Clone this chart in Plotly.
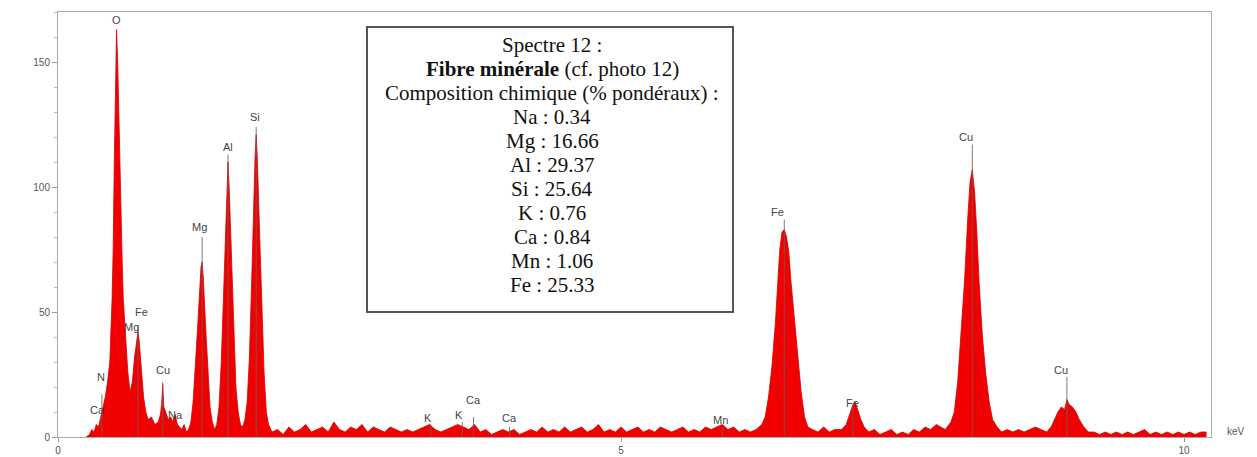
import plotly.graph_objects as go

# ---------------- DATA ----------------
# Low-energy region: peaks O, Fe L, Cu L, Na, Mg, Al, Si
low_kev = [0.25, 0.28, 0.30, 0.32, 0.34, 0.36, 0.38, 0.40, 0.42, 0.44, 0.46, 0.48, 0.49, 0.50, 0.51,
           0.52, 0.53, 0.54, 0.55, 0.56, 0.57, 0.58, 0.60, 0.62, 0.64, 0.66, 0.68, 0.70, 0.71, 0.72,
           0.74, 0.76, 0.78, 0.80, 0.83, 0.86, 0.89, 0.91, 0.92, 0.93, 0.94, 0.96, 0.98, 1.00, 1.02,
           1.04, 1.06, 1.08, 1.10, 1.12, 1.14, 1.16, 1.18, 1.20, 1.22, 1.24, 1.26, 1.27, 1.28, 1.29,
           1.31, 1.33, 1.35, 1.37, 1.39, 1.41, 1.43, 1.45, 1.47, 1.49, 1.50, 1.51, 1.52, 1.54, 1.56,
           1.58, 1.60, 1.62, 1.64, 1.66, 1.68, 1.70, 1.72, 1.74, 1.75, 1.76, 1.77, 1.79, 1.81, 1.83,
           1.85, 1.87]
low_counts = [0, 1, 3, 2, 5, 4, 8, 12, 16, 22, 30, 55, 75, 110, 140,
              163, 150, 128, 110, 90, 70, 55, 38, 26, 18, 22, 32, 40, 42, 39,
              28, 16, 10, 7, 8, 5, 6, 9, 13, 21, 12, 9, 7, 8, 6,
              9, 5, 4, 3, 5, 2, 3, 6, 14, 27, 44, 60, 68, 70, 64,
              45, 26, 12, 6, 3, 5, 12, 30, 58, 88, 103, 110, 100, 72, 42,
              20, 10, 5, 4, 7, 14, 32, 62, 98, 112, 121, 112, 82, 52, 26,
              10, 5]

# Background between Si and Fe K
bg1_kev = [1.90, 1.95, 2.00, 2.05, 2.10, 2.15, 2.20, 2.25, 2.30, 2.35, 2.40, 2.45, 2.50, 2.55, 2.60,
           2.65, 2.70, 2.75, 2.80, 2.85, 2.90, 2.95, 3.00, 3.05, 3.10, 3.15, 3.20, 3.25, 3.30, 3.35,
           3.40, 3.45, 3.50, 3.55, 3.60, 3.65, 3.70, 3.75, 3.80, 3.85, 3.90, 3.95, 4.00, 4.05, 4.10,
           4.15, 4.20, 4.25, 4.30, 4.35, 4.40, 4.45, 4.50, 4.55, 4.60, 4.65, 4.70, 4.75, 4.80, 4.85,
           4.90, 4.95, 5.00, 5.05, 5.10, 5.15, 5.20, 5.25, 5.30, 5.35, 5.40, 5.45, 5.50, 5.55, 5.60,
           5.65, 5.70, 5.75, 5.80, 5.85, 5.90, 5.95, 6.00, 6.05, 6.10, 6.15]
bg1_counts = [2, 3, 1, 4, 2, 3, 5, 2, 3, 4, 2, 6, 3, 2, 4,
              3, 5, 2, 4, 3, 2, 4, 3, 2, 3, 2, 3, 4, 5, 3,
              2, 3, 4, 5, 4, 3, 5, 2, 3, 1, 2, 3, 2, 3, 1,
              2, 3, 2, 4, 2, 3, 2, 4, 2, 3, 4, 2, 3, 5, 2,
              3, 2, 4, 2, 3, 4, 2, 3, 2, 4, 3, 2, 3, 4, 2,
              3, 2, 4, 3, 4, 5, 3, 4, 2, 3, 2]

# Fe K-alpha / K-beta region
fe_kev = [6.20, 6.25, 6.28, 6.31, 6.34, 6.37, 6.39, 6.41, 6.43, 6.45, 6.47, 6.49, 6.51, 6.53, 6.55,
          6.57, 6.60, 6.63, 6.66, 6.70, 6.75, 6.80, 6.85, 6.90, 6.96, 7.00, 7.03, 7.06, 7.08, 7.10,
          7.13, 7.16, 7.20]
fe_counts = [3, 5, 8, 16, 28, 45, 62, 75, 82, 83, 80, 74, 62, 52, 42,
             30, 18, 8, 4, 3, 2, 4, 2, 3, 3, 5, 9, 13, 14, 11,
             7, 4, 2]

# Background, Cu K-alpha, Cu K-beta and tail
cu_kev = [7.25, 7.30, 7.35, 7.40, 7.45, 7.50, 7.55, 7.60, 7.65, 7.70, 7.75, 7.80, 7.84, 7.88, 7.93,
          7.96, 7.99, 8.02, 8.05, 8.08, 8.10, 8.12, 8.14, 8.16, 8.18, 8.21, 8.24, 8.27, 8.30, 8.34,
          8.38, 8.43, 8.48, 8.53, 8.58, 8.63, 8.68, 8.73, 8.78, 8.82, 8.85, 8.88, 8.91, 8.94, 8.96,
          8.98, 9.01, 9.04, 9.07, 9.11, 9.15, 9.20, 9.25, 9.30, 9.35, 9.40, 9.45, 9.50, 9.55, 9.60,
          9.65, 9.70, 9.75, 9.80, 9.85, 9.90, 9.95, 10.00, 10.05, 10.10, 10.15, 10.20]
cu_counts = [3, 1, 2, 3, 1, 2, 1, 3, 2, 4, 3, 5, 4, 3, 6,
             10, 22, 40, 62, 88, 102, 107, 98, 82, 62, 40, 25, 14, 7, 4,
             2, 3, 2, 3, 2, 3, 4, 3, 2, 4, 7, 10, 12, 11, 15,
             13, 12, 10, 7, 4, 2, 2, 1, 2, 1, 2, 1, 2, 1, 2,
             3, 1, 2, 1, 2, 1, 2, 1, 2, 1, 2, 2]

# Element identification lines (energy, top of the marker line)
marker_kev = [0.39, 0.71, 0.93, 1.28, 1.51, 1.76, 3.31, 3.59, 3.69, 4.01, 5.90, 6.45, 7.06, 8.12, 8.96]
marker_top = [17, 44, 22, 80, 113, 124, 5, 6, 8, 4, 4, 87, 12, 117, 24]

# Peak labels
label_text = ["O", "N", "Ca", "Fe", "Mg", "Cu", "Na", "Mg", "Al", "Si", "K", "K", "Ca", "Ca",
              "Mn", "Fe", "Fe", "Cu", "Cu"]
label_kev = [0.52, 0.38, 0.35, 0.74, 0.65, 0.93, 1.04, 1.26, 1.51, 1.75, 3.29, 3.56, 3.69, 4.01,
             5.88, 6.39, 7.06, 8.06, 8.91]
label_counts = [167, 24, 11, 50, 44, 27, 9, 84, 116, 128, 7.6, 9, 15, 7.6,
                7, 90, 13.6, 120, 27]

# Text box
box_lines = ["Spectre 12 :",
             "<b>Fibre minérale</b> (cf. photo 12)",
             "Composition chimique (% pondéraux) :",
             "Na : 0.34", "Mg : 16.66", "Al : 29.37", "Si : 25.64",
             "K : 0.76", "Ca : 0.84", "Mn : 1.06", "Fe : 25.33"]

x_ticks = [0, 5, 10]
y_ticks = [0, 50, 100, 150]

# ---------------- FIGURE ----------------
energy = low_kev + bg1_kev + fe_kev + cu_kev
counts = low_counts + bg1_counts + fe_counts + cu_counts

fig = go.Figure()
fig.add_trace(go.Scatter(
    x=energy, y=counts, mode="lines", fill="tozeroy",
    line=dict(color="rgb(215,0,0)", width=0.8),
    fillcolor="rgb(240,0,0)", hoverinfo="x+y", showlegend=False))

mx, my = [], []
for e, t in zip(marker_kev, marker_top):
    mx += [e, e, None]
    my += [0, t, None]
fig.add_trace(go.Scatter(x=mx, y=my, mode="lines",
                         line=dict(color="rgba(120,90,90,0.85)", width=1),
                         hoverinfo="skip", showlegend=False))

for t, e, c in zip(label_text, label_kev, label_counts):
    fig.add_annotation(x=e, y=c, text=t, showarrow=False, xanchor="center", yanchor="middle",
                       font=dict(family="Liberation Sans, Arial", size=11, color="#444"))

# The page body has an 8 px margin, so the figure is drawn offset by 8 px.
OFF = 8
W, H = 1257 - OFF, 457 - OFF
# plot area in page pixels: x 58 -> 1211, y 12 -> 437
L, R, T, B = 58 - OFF, 1211 - OFF, 12 - OFF, 437 - OFF
def px(xp):
    return (xp - OFF - L) / (R - L)
def py(yp):
    return (B - (yp - OFF)) / (B - T)

fig.add_shape(type="rect", xref="paper", yref="paper",
              x0=px(367), x1=px(733), y0=py(312), y1=py(27),
              line=dict(color="#555", width=2), fillcolor="white", layer="above")
for i, line in enumerate(box_lines):
    fig.add_annotation(xref="paper", yref="paper", x=px(552), y=py(45 + 24 * i),
                       text=line, showarrow=False, xanchor="center", yanchor="middle",
                       font=dict(family="Liberation Serif, Times New Roman", size=21, color="#111"))

fig.add_annotation(xref="paper", yref="paper", x=px(1236), y=py(431), text="keV",
                   showarrow=False, xanchor="center", yanchor="middle",
                   font=dict(family="Liberation Sans, Arial", size=10, color="#555"))

fig.update_layout(
    width=W, height=H,
    margin=dict(l=L, r=W - R, t=T, b=H - B, autoexpand=False),
    paper_bgcolor="white", plot_bgcolor="white",
    xaxis=dict(range=[0, (1211 - 57.5) / 112.65], tickvals=x_ticks, ticktext=[str(v) for v in x_ticks],
               automargin=False,
               showgrid=False, zeroline=False, showline=True, linecolor="#aaa", linewidth=1,
               mirror=True, ticks="outside", ticklen=4, tickcolor="#999",
               tickfont=dict(family="Liberation Sans, Arial", size=10, color="#555")),
    yaxis=dict(range=[0, 170], tickvals=y_ticks, ticktext=[str(v) for v in y_ticks],
               automargin=False,
               showgrid=False, zeroline=False, showline=True, linecolor="#aaa", linewidth=1,
               mirror=True, ticks="outside", ticklen=5, tickcolor="#999",
               tickfont=dict(family="Liberation Sans, Arial", size=10, color="#555"),
               minor=dict(dtick=10, ticks="outside", ticklen=3, tickcolor="#bbb")),
)

fig.write_html("out.html")
